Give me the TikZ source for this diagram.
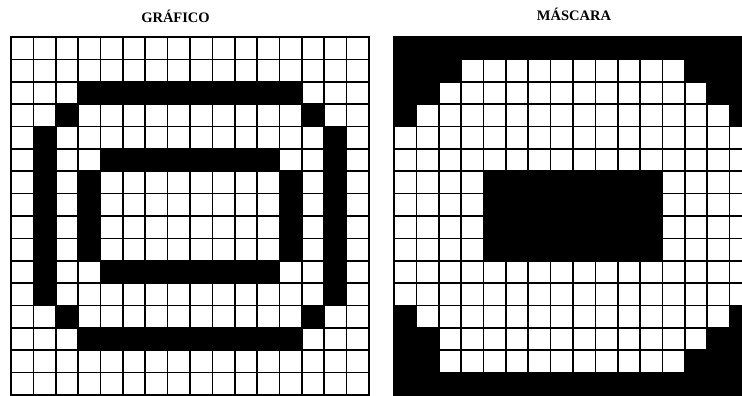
\documentclass[tikz,border=0pt]{standalone}
\usepackage{fontspec}
\setmainfont{Liberation Serif}
\tikzset{
  gridline/.style={line width=1.7pt, black},
  frameline/.style={line width=2pt, black},
  titletext/.style={font=\bfseries\fontsize{14.5}{16}\selectfont, inner sep=0pt, anchor=base},
  cellunit/.style={x=22.375pt, y=-22.375pt}
}
\begin{document}
\begin{tikzpicture}
\useasboundingbox (0,0) rectangle (742pt,-396pt);
\clip (0,0) rectangle (742pt,-396pt);
\fill[white] (0,0) rectangle (742pt,-396pt);
% titles
\node[titletext] (t1) at (175.5pt,-23pt) {GR\'AFICO};
\node[titletext] (t2) at (574pt,-20.5pt) {M\'ASCARA};
% left grid
\begin{scope}[shift={(11pt,-37pt)}, cellunit]
  \fill (3,2) rectangle (13,3);
  \fill (3,13) rectangle (13,14);
  \fill (2,3) rectangle (3,4);
  \fill (13,3) rectangle (14,4);
  \fill (2,12) rectangle (3,13);
  \fill (13,12) rectangle (14,13);
  \fill (1,4) rectangle (2,12);
  \fill (14,4) rectangle (15,12);
  \fill (4,5) rectangle (12,6);
  \fill (4,10) rectangle (12,11);
  \fill (3,6) rectangle (4,10);
  \fill (12,6) rectangle (13,10);
  \foreach \i in {1,...,15} {
    \draw[gridline] (\i,0) -- (\i,16);
    \draw[gridline] (0,\i) -- (16,\i);
  }
  \draw[frameline] (0,0) rectangle (16,16);
\end{scope}
% right grid (mask)
\begin{scope}[shift={(394pt,-37pt)}, cellunit]
  \fill (0,0) rectangle (16,16);
  \fill[white] (3,1) rectangle (13,2);
  \fill[white] (2,2) rectangle (14,3);
  \fill[white] (1,3) rectangle (15,4);
  \fill[white] (0,4) rectangle (16,6);
  \fill[white] (0,6) rectangle (4,10);
  \fill[white] (12,6) rectangle (16,10);
  \fill[white] (0,10) rectangle (16,12);
  \fill[white] (1,12) rectangle (15,13);
  \fill[white] (2,13) rectangle (14,14);
  \fill[white] (2,14) rectangle (13,15);
  \foreach \i in {1,...,15} {
    \draw[gridline] (\i,0) -- (\i,16);
    \draw[gridline] (0,\i) -- (16,\i);
  }
  \draw[frameline] (0,0) rectangle (16,16);
\end{scope}
\end{tikzpicture}
\end{document}
